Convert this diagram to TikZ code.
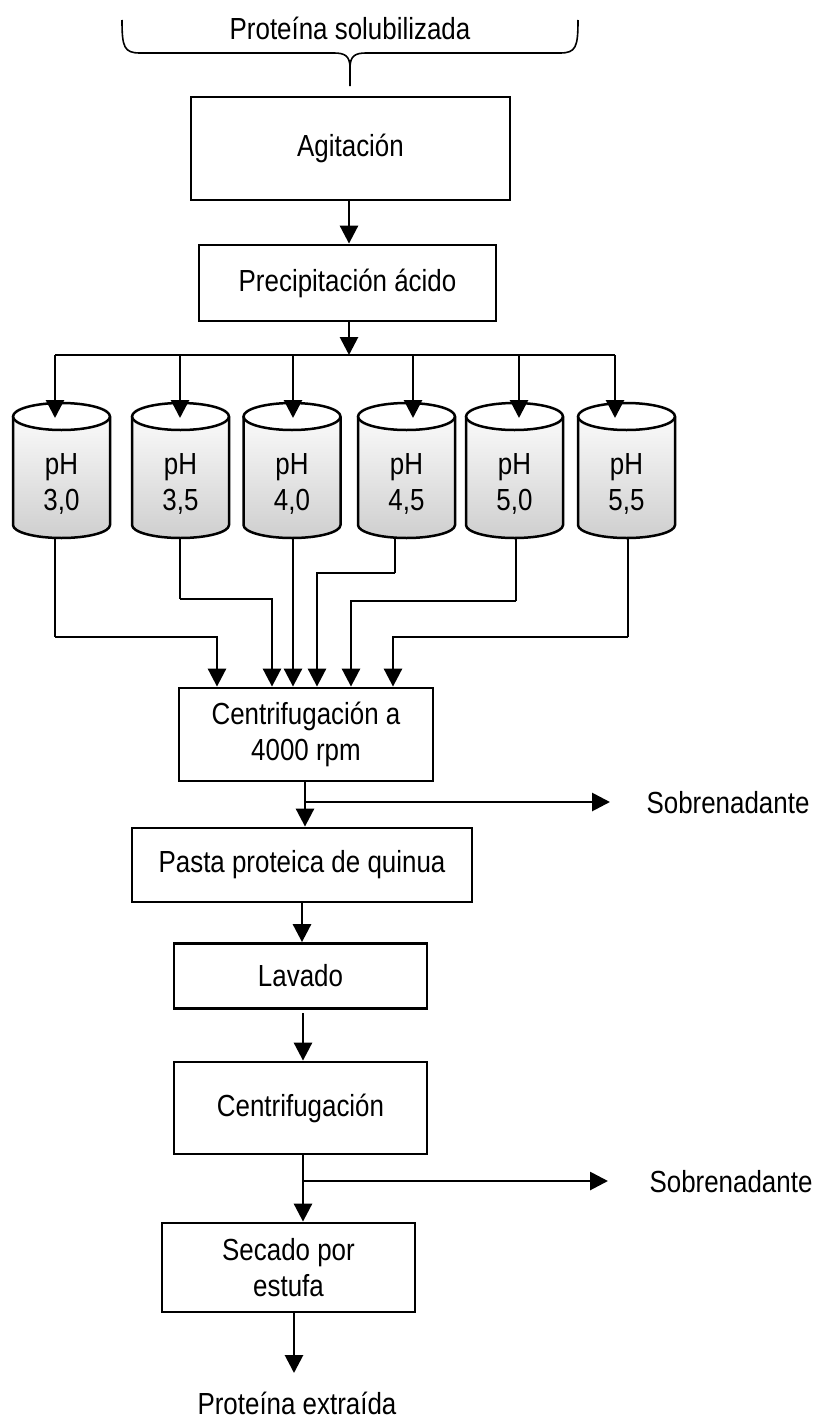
\documentclass[tikz,border=0pt]{standalone}
\usepackage{fontspec}
\setmainfont{Liberation Sans}[FakeStretch=0.85]
\usetikzlibrary{arrows.meta}
\newcommand\phcyl[3]{%
  \shade[top color=white,bottom color=gray!38]
    ({#1-48.5},-416.5) -- ({#1-48.5},-525)
    arc[start angle=180,end angle=360,x radius=48.5,y radius=13]
    -- ({#1+48.5},-416.5)
    arc[start angle=0,end angle=180,x radius=48.5,y radius=13.5] -- cycle;
  \draw[line width=2.5pt]
    ({#1-48.5},-416.5) -- ({#1-48.5},-525)
    arc[start angle=180,end angle=360,x radius=48.5,y radius=13]
    -- ({#1+48.5},-416.5);
  \draw[line width=2.5pt,fill=white] (#1,-416.5) ellipse[x radius=48.5,y radius=13.5];
  \node[align=center] (#2) at (#1,-484) {pH\\#3};
}
\begin{document}
\begin{tikzpicture}[x=1pt,y=1pt,
  every node/.style={font=\fontsize{30.5}{36}\selectfont, inner sep=0pt},
  box/.style={draw, line width=2.8pt, align=center},
  thickline/.style={line width=2.8pt},
  thinline/.style={line width=1.6pt},
  arr/.style={line width=2.8pt, -{Triangle[width=18pt,length=18pt]}}]
\useasboundingbox (0,0) rectangle (820,-1421);

% brace and title
\node (top) at (350,-28) {Proteína solubilizada};
\coordinate (bracetip) at (350,-86);
\draw[thinline] (122,-20) .. controls (122,-47) and (124,-53) .. (140,-53) -- (334,-53)
  .. controls (345,-53) and (350,-56) .. (350,-68) -- (bracetip);
\draw[thinline] (578,-20) .. controls (578,-47) and (576,-53) .. (560,-53) -- (366,-53)
  .. controls (355,-53) and (350,-56) .. (350,-68);

% boxes
\node[box, minimum width=319, minimum height=103] (agit) at (350.5,-148.5) {Agitación};
\node[box, minimum width=297, minimum height=76] (prec) at (347.5,-283) {Precipitación ácido};
\node[box, minimum width=254, minimum height=93] (cen1) at (306,-734.5) {Centrifugación a\\4000 rpm};
\node[box, minimum width=340, minimum height=74] (pasta) at (302,-865) {Pasta proteica de quinua};
\node[box, minimum width=253, minimum height=65] (lav) at (300.5,-976) {Lavado};
\node[box, minimum width=253, minimum height=92] (cen2) at (300.5,-1108) {Centrifugación};
\node[box, minimum width=253, minimum height=89] (sec) at (288.5,-1267.5) {Secado por\\estufa};
\node (sob1) at (728,-803) {Sobrenadante};
\node (sob2) at (731,-1182) {Sobrenadante};
\node (ext) at (297,-1403) {Proteína extraída};

% cylinders
\phcyl{61.5}{c1}{3,0}
\phcyl{180.5}{c2}{3,5}
\phcyl{292}{c3}{4,0}
\phcyl{406.5}{c4}{4,5}
\phcyl{514.5}{c5}{5,0}
\phcyl{626.5}{c6}{5,5}

% top arrows
\draw[arr] (349,0 |- agit.south) -- (349,0 |- prec.north);
\coordinate (bus) at (349,-355);
\draw[arr] (349,0 |- prec.south) -- (bus);
\draw[thinline] (55,-355) -- (615,-355);
\foreach \xx in {55,180,293,413,519,615}
  \draw[arr] (\xx,-355) -- (\xx,-418);

% outputs of cylinders
\draw[thinline] (55,-539) -- (55,-637);
\draw[arr] (55,-637) -- (217,-637) -- (217,0 |- cen1.north);
\draw[thinline] (180,-539) -- (180,-599);
\draw[arr] (180,-599) -- (272,-599) -- (272,0 |- cen1.north);
\draw[arr] (293,-539) -- (293,0 |- cen1.north);
\draw[thinline] (395,-539) -- (395,-573);
\draw[arr] (395,-573) -- (317,-573) -- (317,0 |- cen1.north);
\draw[thinline] (516,-539) -- (516,-601);
\draw[arr] (516,-601) -- (351,-601) -- (351,0 |- cen1.north);
\draw[thinline] (628,-539) -- (628,-637);
\draw[arr] (628,-637) -- (393,-637) -- (393,0 |- cen1.north);

% lower chain
\draw[arr] (305,0 |- cen1.south) -- (305,0 |- pasta.north);
\coordinate (s1end) at (610,-802);
\draw[arr] (305,-802) -- (s1end);
\draw[arr] (302,0 |- pasta.south) -- (302,0 |- lav.north);
\draw[arr] (303,-1013) -- (303,0 |- cen2.north);
\draw[arr] (303,0 |- cen2.south) -- (303,0 |- sec.north);
\coordinate (s2end) at (608,-1181);
\draw[arr] (303,-1181) -- (s2end);
\coordinate (extend) at (294,-1373);
\draw[arr] (294,0 |- sec.south) -- (extend);
\end{tikzpicture}
\end{document}
